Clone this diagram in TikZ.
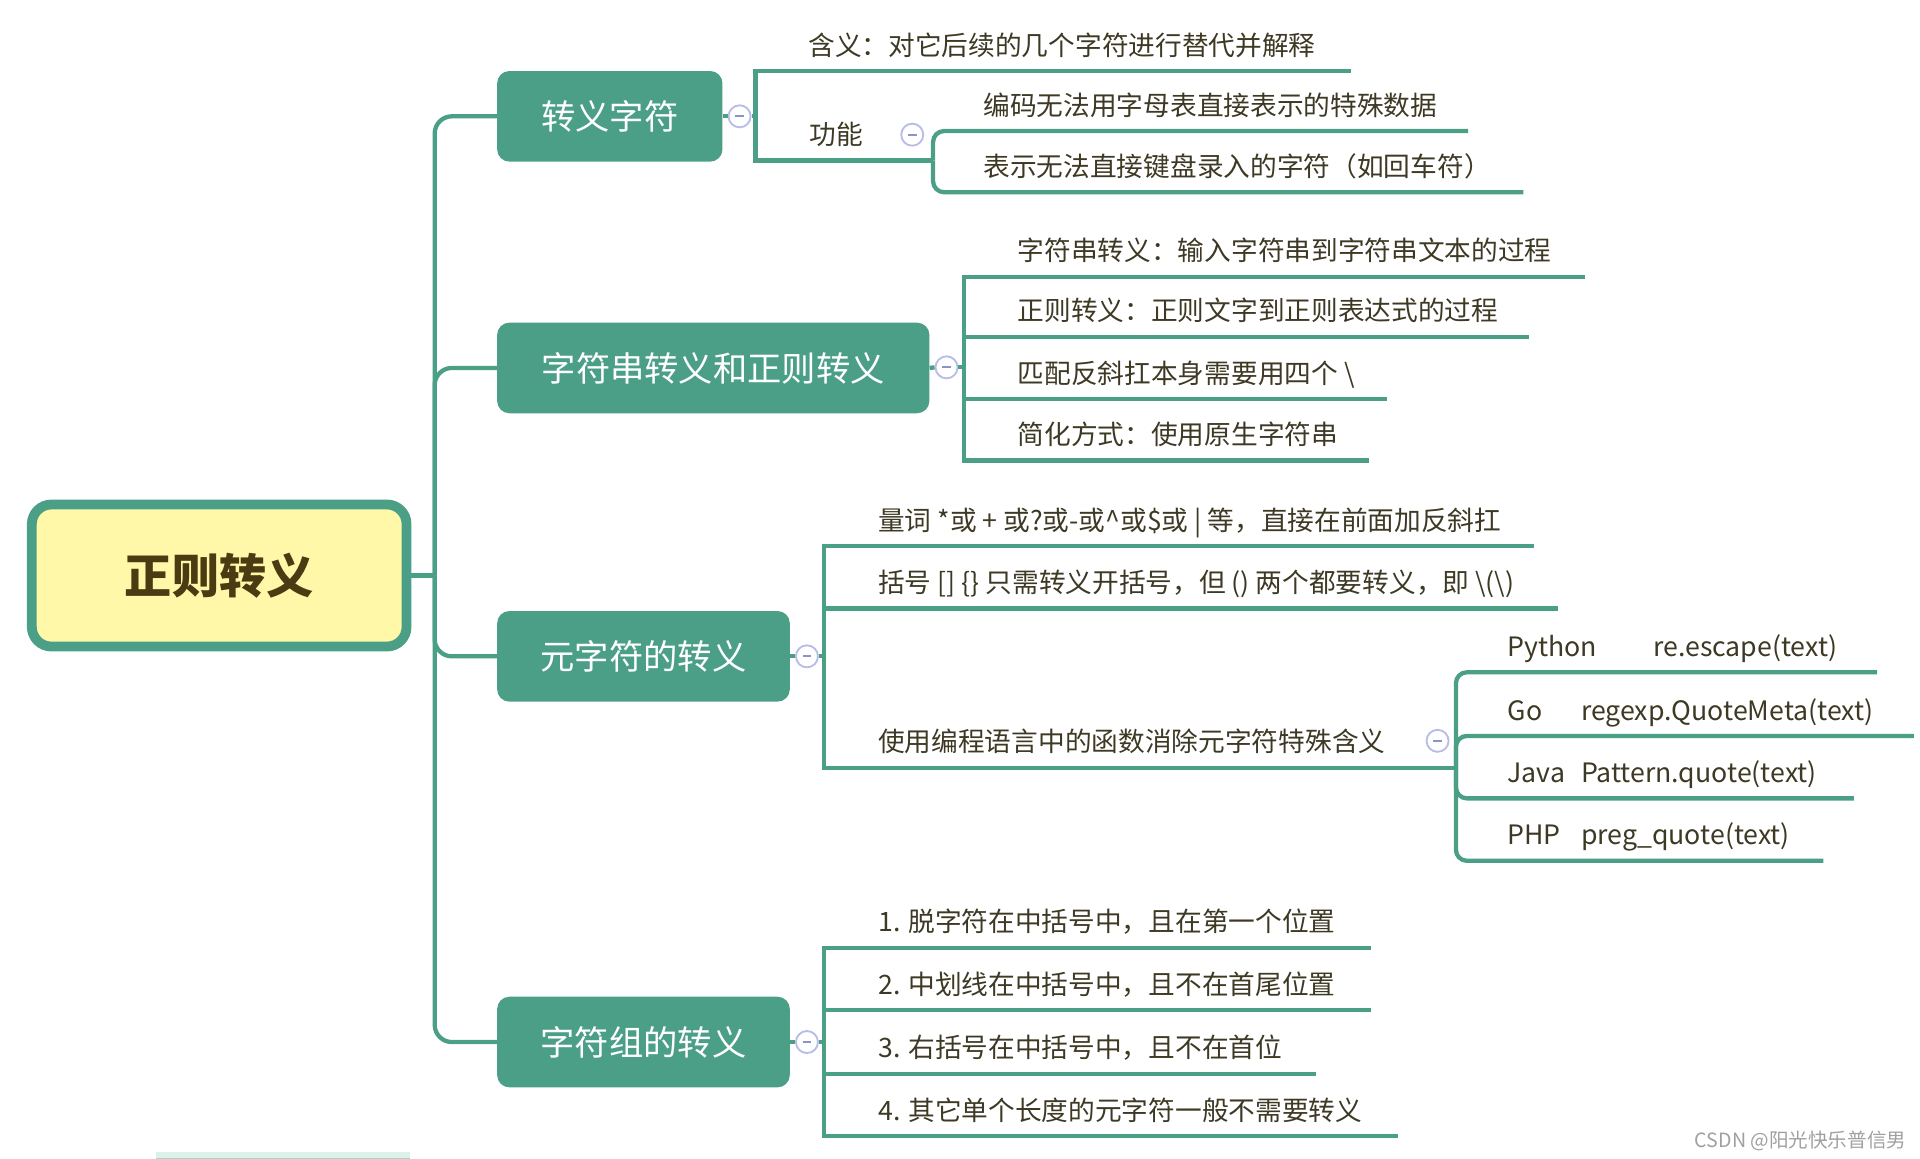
\documentclass[tikz,border=0pt]{standalone}
\usepackage{fontspec}
\setmainfont{Noto Sans CJK SC}
\definecolor{teal1}{HTML}{4C9F87}
\definecolor{leaftxt}{HTML}{3D3924}
\definecolor{roottxt}{HTML}{4A3B12}
\definecolor{rootfill}{HTML}{FFF8A8}
\definecolor{ring}{HTML}{B7BCE8}
\definecolor{ringminus}{HTML}{8E93C5}
\definecolor{wmgray}{HTML}{A0A0A0}
\definecolor{barfill}{HTML}{DDF1EB}
\definecolor{barline}{HTML}{A6D6C8}
\tikzset{
  conn/.style={draw=teal1, line width=3.5pt},
  sq/.style={conn, sharp corners},
  rd/.style={conn, rounded corners=9pt},
  trunk/.style={conn, rounded corners=14pt},
  rootbox/.style={draw=teal1, line width=8pt, fill=rootfill, rounded corners=16pt,
    minimum width=306pt, minimum height=116pt, inner sep=0pt,
    font=\fontsize{38.5}{44}\selectfont\bfseries, text=roottxt},
  branchbox/.style={fill=teal1, rounded corners=10pt, text=white,
    font=\fontsize{28}{32}\selectfont, inner sep=0pt, minimum height=74pt},
  leaf/.style={anchor=base west, text=leaftxt, font=\fontsize{21.8}{26}\selectfont, inner sep=0pt},
  toggle/.style={circle, draw=ring, fill=white, line width=1.5pt, minimum size=18pt, inner sep=0pt,
    path picture={\draw[ringminus, line width=1.6pt]
      ([xshift=-3.5pt]path picture bounding box.center) -- ([xshift=3.5pt]path picture bounding box.center);}},
}
\begin{document}
\begin{tikzpicture}[x=1pt,y=-1pt]
\useasboundingbox (0,0) rectangle (1568,946.5);

% faint bar at bottom-left
\fill[barfill] (127,941) rectangle (335,946.5);
\draw[barline, line width=1.2pt] (127,946) -- (335,946);

% root
\node[rootbox] (root) at (179,470) {正则转义};

% branch boxes
\node[branchbox, minimum width=184pt] (b1) at (498,95) {转义字符};
\node[branchbox, minimum width=353pt] (b2) at (582.5,300.5) {字符串转义和正则转义};
\node[branchbox, minimum width=239pt] (b3) at (525.5,536) {元字符的转义};
\node[branchbox, minimum width=239pt] (b4) at (525.5,851) {字符组的转义};

% trunk
\coordinate (tj) at (355,470);
\draw[conn] (root.east) -- (tj);
\draw[trunk] (b1.west) -| (tj);
\draw[trunk] (b2.west) -| (tj);
\draw[trunk] (b3.west) -| (tj);
\draw[trunk] (b4.west) -| (tj);

% toggles on branches
\node[toggle] (t1) at (604,95) {};
\node[toggle] (t2) at (773,300) {};
\node[toggle] (t3) at (659,536) {};
\node[toggle] (t4) at (659,851) {};
\draw[conn] (b1.east) -- (t1.west);
\draw[conn] (b2.east) -- (t2.west);
\draw[conn] (b3.east) -- (t3.west);
\draw[conn] (b4.east) -- (t4.west);

% ---------- group 1 ----------
\coordinate (g1) at (617,95);
\coordinate (ea1) at (1103,58);
\coordinate (ea2) at (762,131);
\draw[sq] (t1.east) -- (g1) |- (ea1);
\draw[sq] (t1.east) -- (g1) |- (ea2);
\node[leaf] (a1) at (660,45) {含义：对它后续的几个字符进行替代并解释};
\node[leaf] (a2) at (661,118) {功能};
\node[toggle] (t12) at (745,110) {};

\coordinate (ec1) at (1199,107);
\coordinate (ec2) at (1244,157);
\draw[rd] (ec1) -| (ea2);
\draw[rd] (ec2) -| (ea2);
\node[leaf] (c1) at (803,94) {编码无法用字母表直接表示的特殊数据};
\node[leaf] (c2) at (803,144) {表示无法直接键盘录入的字符（如回车符）};

% ---------- group 2 ----------
\coordinate (g2) at (787,300);
\coordinate (ed1) at (1294,226);
\coordinate (ed2) at (1249,275);
\coordinate (ed3) at (1133,326);
\coordinate (ed4) at (1118,376);
\draw[sq] (t2.east) -- (g2) |- (ed1);
\draw[sq] (t2.east) -- (g2) |- (ed2);
\draw[sq] (t2.east) -- (g2) |- (ed3);
\draw[sq] (t2.east) -- (g2) |- (ed4);
\node[leaf] (d1) at (831,213) {字符串转义：输入字符串到字符串文本的过程};
\node[leaf] (d2) at (831,262) {正则转义：正则文字到正则表达式的过程};
\node[leaf] (d3) at (831,313) {匹配反斜扛本身需要用四个 \textbackslash};
\node[leaf] (d4) at (831,363) {简化方式：使用原生字符串};

% ---------- group 3 ----------
\coordinate (g3) at (673,536);
\coordinate (ee1) at (1253,446);
\coordinate (ee2) at (1272,497);
\coordinate (ee3) at (1189,627);
\draw[sq] (t3.east) -- (g3) |- (ee1);
\draw[sq] (t3.east) -- (g3) |- (ee2);
\draw[sq] (t3.east) -- (g3) |- (ee3);
\node[leaf] (e1) at (717,433) {量词 *或 + 或?或-或\textasciicircum 或\$或 | 等，直接在前面加反斜扛};
\node[leaf] (e2) at (717,484) {括号 [] \{\} 只需转义开括号，但 () 两个都要转义，即 \textbackslash(\textbackslash)};
\node[leaf] (e3) at (717,614) {使用编程语言中的函数消除元字符特殊含义};
\node[toggle] (t33) at (1174,605) {};

\coordinate (ef1) at (1533,549);
\coordinate (ef2) at (1563,601);
\coordinate (ef3) at (1514,652);
\coordinate (ef4) at (1489,703);
\draw[rd] (ef1) -| (ee3);
\draw[rd] (ef2) -| (ee3);
\draw[rd] (ef3) -| (ee3);
\draw[rd] (ef4) -| (ee3);
\node[leaf] (f1) at (1231,536) {\makebox[119pt][l]{Python}re.escape(text)};
\node[leaf] (f2) at (1231,588) {\makebox[60pt][l]{Go}regexp.QuoteMeta(text)};
\node[leaf] (f3) at (1231,639) {\makebox[60pt][l]{Java}Pattern.quote(text)};
\node[leaf] (f4) at (1231,690) {\makebox[60pt][l]{PHP}preg\_quote(text)};

% ---------- group 4 ----------
\coordinate (g4) at (673,851);
\coordinate (eg1) at (1120,774);
\coordinate (eg2) at (1120,825);
\coordinate (eg3) at (1075,877);
\coordinate (eg4) at (1142,928);
\draw[sq] (t4.east) -- (g4) |- (eg1);
\draw[sq] (t4.east) -- (g4) |- (eg2);
\draw[sq] (t4.east) -- (g4) |- (eg3);
\draw[sq] (t4.east) -- (g4) |- (eg4);
\node[leaf] (h1) at (717,761) {1. 脱字符在中括号中，且在第一个位置};
\node[leaf] (h2) at (717,812) {2. 中划线在中括号中，且不在首尾位置};
\node[leaf] (h3) at (717,864) {3. 右括号在中括号中，且不在首位};
\node[leaf] (h4) at (717,915) {4. 其它单个长度的元字符一般不需要转义};

% watermark
\node[anchor=east, text=wmgray, font=\fontsize{16}{18}\selectfont, inner sep=0pt] (wm) at (1557,932) {CSDN @阳光快乐普信男};
\end{tikzpicture}
\end{document}
